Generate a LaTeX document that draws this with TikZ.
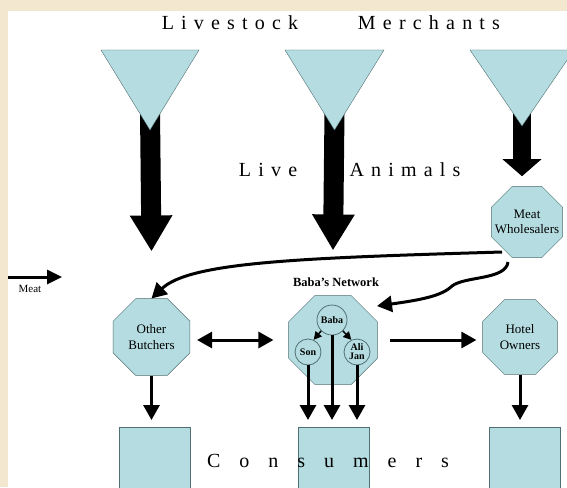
\documentclass[tikz,border=0pt]{standalone}
\usepackage{fontspec}
\setmainfont{Liberation Serif}
\newfontfamily\spacedfont[LetterSpace=36]{Liberation Serif}
\newfontfamily\widefont[LetterSpace=95]{Liberation Serif}
\usetikzlibrary{arrows.meta,shapes.geometric,calc}
\definecolor{paper}{HTML}{F3E8CF}
\definecolor{pale}{HTML}{B5DDE1}
\definecolor{rim}{HTML}{4F6F72}

\begin{document}
\begin{tikzpicture}[
        x=1pt, y=-1pt,
        octagon/.style = {regular polygon, regular polygon sides=8, draw=rim, fill=pale, align=center, inner sep=0pt, font=\fontsize{13}{15.5}\selectfont},
        member/.style = {circle, draw=rim, fill=pale, inner sep=0pt, line width=0.8pt, align=center, font=\bfseries\fontsize{10}{9}\selectfont},
        outlet/.style = {rectangle, draw=rim, fill=pale, minimum width=71pt, minimum height=80pt, anchor=north},
        funnel/.style = {draw=rim, fill=pale},
        supply/.style = {line width=20pt, -{Triangle[width=40pt,length=36pt]}},
        flow/.style = {line width=3pt, -{Triangle[width=16pt,length=15pt]}},
        spread/.style = {line width=1.5pt, -{Triangle[width=8pt,length=8pt]}},
        caption/.style = {inner sep=0pt, font=\spacedfont\fontsize{20}{20}\selectfont}
    ]

    \useasboundingbox (0,0) rectangle (567,487);
    \clip (0,0) rectangle (567,487);
    \fill[paper] (0,0) rectangle (567,487);
    \fill[white] (8,11) rectangle (567,487);

    % merchants
    \coordinate (lm1) at (150,130);
    \coordinate (lm2) at (334.5,130);
    \coordinate (lm3) at (522,126);

    \node[caption] (livestock) at (230,23) {Livestock};
    \node[caption] (merchants) at (429,23) {Merchants};

    % shops
    \node[octagon, minimum size=83pt] (ob) at (151.5,337) {Other\\Butchers};
    \node[octagon, minimum size=96pt] (bn) at (333,340) {};
    \node[octagon, minimum size=81pt] (ho) at (520,337) {Hotel\\Owners};
    \node[octagon, minimum size=77pt] (mw) at (527,222) {};
    \node[align=center, inner sep=0pt, font=\fontsize{13}{15.5}\selectfont] (mwtext) at (mw.center) {Meat\\Wholesalers};
    \node[font=\bfseries\fontsize{12.5}{14}\selectfont, inner sep=0pt] (bntitle) at (336,282) {Baba's Network};

    % live animals
    \draw[supply] ([yshift=18pt]lm1) -- ([yshift=47pt]ob.north);
    \draw[supply] ([yshift=18pt]lm2) -- ([yshift=45pt]bn.north);
    \draw[line width=18pt, -{Triangle[width=38pt,length=17pt]}] ([yshift=14pt]lm3) -- ([yshift=10pt]lm3 |- mw.north);

    \filldraw[funnel] (101,50) -- (199,50) -- (lm1) -- cycle;
    \filldraw[funnel] (285,50) -- (384,50) -- (lm2) -- cycle;
    \filldraw[funnel] (470,50) -- (574,50) -- (lm3) -- cycle;

    \node[caption] (live) at (268,170) {Live};
    \node[caption] (animals) at (405,170) {Animals};

    % the network
    \node[member, minimum size=30pt] (baba) at (332,320) {Baba};
    \node[member, minimum size=26pt] (son) at (308,352) {Son};
    \node[member, minimum size=26pt] (ali) at (357,352) {Ali\\Jan};
    \draw[spread] (baba.225) -- (son.65);
    \draw[spread] (baba.-45) -- (ali.115);

    % consumers
    \node[outlet] (cons1) at (154.5,427) {};
    \node[outlet] (cons2) at (333.5,427) {};
    \node[outlet] (cons3) at (525,427) {};
    \node[inner sep=0pt, font=\widefont\fontsize{20}{20}\selectfont] (consumers) at (328,461) {Consumers};

    % meat
    \coordinate (keyA) at (8,277);
    \coordinate (keyB) at (62,277);
    \draw[line width=3pt, -{Triangle[width=14pt,length=15pt]}] (keyA) -- (keyB);
    \node[font=\fontsize{11}{12}\selectfont, inner sep=0pt] (meat) at (30,289) {Meat};

    \draw[flow] ($(mw.center)+(-25,30)$) .. controls (300,258) and (190,262) .. (ob.north);
    \draw[flow] ($(mw.center)+(-19,40)$) .. controls (506,280) and (465,276) .. (452,286)
        .. controls (442,296) and (420,300) .. ($(bn.center)+(44,-34)$);

    \draw[flow, {Triangle[width=16pt,length=15pt]}-{Triangle[width=16pt,length=15pt]}] ([xshift=7pt]ob.east |- bn.center) -- ([xshift=-15pt]bn.west);
    \draw[flow] ([xshift=12pt]bn.east) -- ([xshift=-6pt]ho.west |- bn.east);

    \draw[flow, shorten >=7pt] (ob.south) -- (ob.south |- cons1.north);
    \draw[flow, shorten >=7pt] (ho.south) -- (ho.south |- cons3.north);
    \draw[flow, shorten >=7pt] (son.south) -- (son.south |- cons2.north);
    \draw[flow, shorten >=7pt] (baba.south) -- (baba.south |- cons2.north);
    \draw[flow, shorten >=7pt] (ali.south) -- (ali.south |- cons2.north);
\end{tikzpicture}
\end{document}
